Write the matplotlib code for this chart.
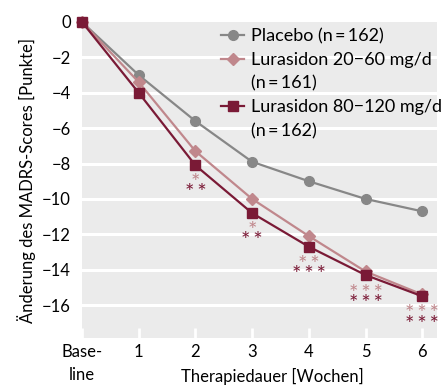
import matplotlib.pyplot as plt
from matplotlib.lines import Line2D

plt.rcParams['font.family'] = ['Lato', 'DejaVu Sans']

# Daten
wochen = [0, 1, 2, 3, 4, 5, 6]
placebo = [0, -3.0, -5.6, -7.9, -9.0, -10.0, -10.7]
lura_low = [0, -3.4, -7.3, -10.0, -12.1, -14.1, -15.4]
lura_high = [0, -4.0, -8.1, -10.8, -12.7, -14.3, -15.5]
x_labels = ['Base-\nline', '1', '2', '3', '4', '5', '6']
y_ticks = [0, -2, -4, -6, -8, -10, -12, -14, -16]

# Signifikanz-Sterne
stern_x = [2, 3, 4, 5, 6]
stern_low = ['*', '*', '**', '***', '***']
stern_low_y = [-8.8, -11.5, -13.4, -15.05, -16.2]
stern_high = ['**', '**', '***', '***', '***']
stern_high_y = [-9.35, -12.05, -14.0, -15.6, -16.8]

c_pl = '#878787'
c_low = '#c0878c'
c_high = '#7a1a36'

fig = plt.figure(figsize=(4.47, 3.9), dpi=100)
ax = fig.add_axes([0.1834, 0.1333, 0.7942, 0.8103])
ax.set_facecolor('#ebebeb')
for s in ax.spines.values():
    s.set_visible(False)

for y in y_ticks[1:]:
    ax.axhline(y, color='white', lw=2.2, zorder=1)

l1, = ax.plot(wochen, placebo, color=c_pl, lw=1.6, marker='o', ms=7,
              zorder=3, clip_on=False)
l2, = ax.plot(wochen, lura_low, color=c_low, lw=1.6, marker='D', ms=6.5,
              zorder=4, clip_on=False)
l3, = ax.plot(wochen, lura_high, color=c_high, lw=1.6, marker='s', ms=7.4,
              zorder=5, clip_on=False)

# Sterne: Glyphe sitzt hoch, daher Grundlinie etwas tiefer
for i in range(len(stern_x)):
    ax.text(stern_x[i], stern_low_y[i] - 0.66, '\u2009'.join(stern_low[i]),
            color=c_low, ha='center', va='baseline', fontsize=16)
    ax.text(stern_x[i], stern_high_y[i] - 0.66, '\u2009'.join(stern_high[i]),
            color=c_high, ha='center', va='baseline', fontsize=16)

ax.set_xlim(0, 6.26)
ax.set_ylim(-17.86, 0)
ax.set_xticks(wochen)
ax.set_xticklabels(x_labels)
for t in ax.get_xticklabels():
    t.set_linespacing(1.55)
ax.set_yticks(y_ticks)
ax.set_yticklabels(['0'] + ['\u2212' + str(-v) for v in y_ticks[1:]])
ax.tick_params(axis='x', direction='in', color='white', length=7, width=2,
               labelsize=12, pad=4)
ax.tick_params(axis='y', length=0, labelsize=12, pad=8)
ax.set_xlabel('Therapiedauer [Wochen]', fontsize=12)
ax.xaxis.set_label_coords(0.535, -0.095)
ax.set_ylabel('Änderung des MADRS-Scores [Punkte]', fontsize=12, labelpad=4)

leer = Line2D([], [], color='none')
ax.legend([l1, l2, leer, l3, leer],
          ['Placebo (n\u2009=\u2009162)', 'Lurasidon 20\u221260 mg/d', '(n\u2009=\u2009161)',
           'Lurasidon 80\u2212120 mg/d', '(n\u2009=\u2009162)'],
          loc='upper right', frameon=False, fontsize=13, handlelength=1.3,
          handletextpad=0.35, borderaxespad=0.2, labelspacing=0.42,
          bbox_to_anchor=(1.044, 1.014))

fig.savefig('out.png', dpi=100)
